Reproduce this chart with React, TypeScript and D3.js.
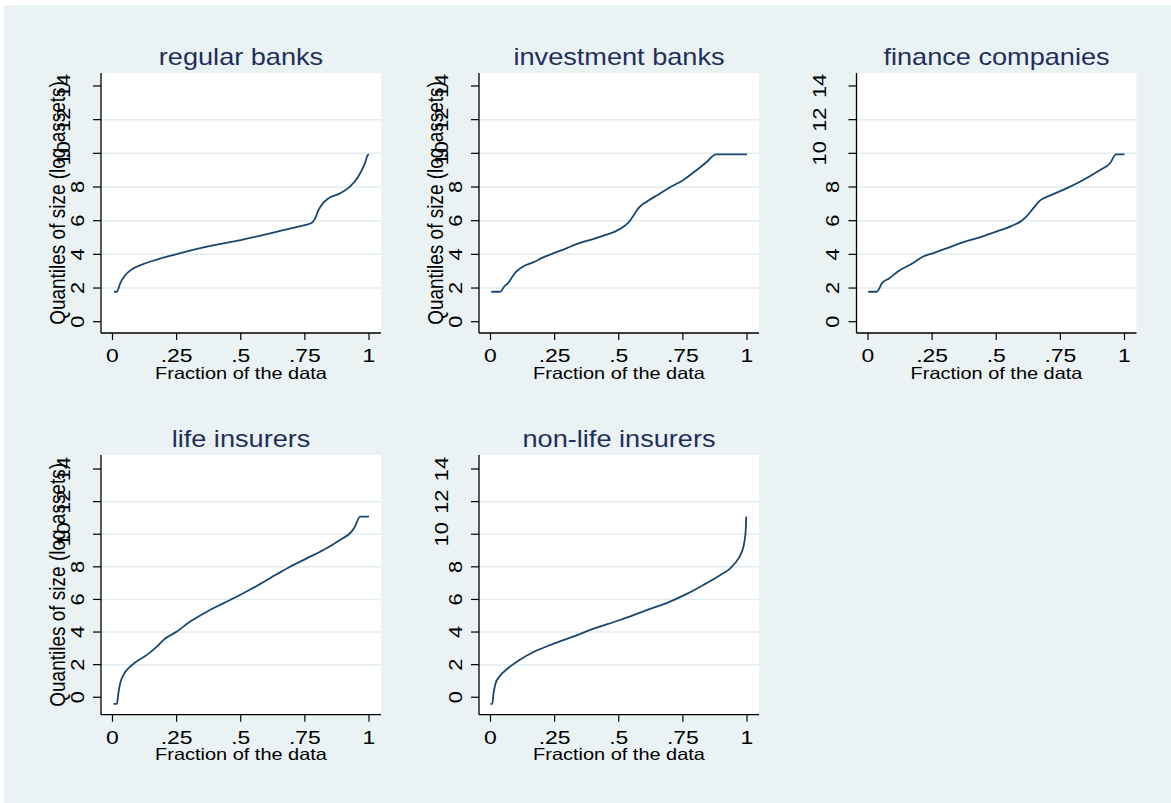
import React from 'react';
import * as d3 from 'd3';

// Quantile plots of firm size (log assets) by type of financial institution.
const panelTitles = ['regular banks', 'investment banks', 'finance companies', 'life insurers', 'non-life insurers'];

const fractionTicks = [0, 0.25, 0.5, 0.75, 1];
const fractionTickLabels = ['0', '.25', '.5', '.75', '1'];
const sizeTicks = [0, 2, 4, 6, 8, 10, 12, 14];
const sizeGrid = [2, 4, 6, 8, 10, 12];

const xTitle = 'Fraction of the data';
const yTitle = 'Quantiles of size (log assets)';

// [fraction of the data, quantile of log assets]
const regularBanks: [number, number][] = [
  [0.006, 1.78], [0.017, 1.78], [0.03, 2.28], [0.05, 2.77], [0.082, 3.17], [0.134, 3.5],
  [0.25, 4.02], [0.368, 4.46], [0.5, 4.85], [0.627, 5.29], [0.705, 5.58], [0.75, 5.74],
  [0.777, 5.88], [0.79, 6.14], [0.803, 6.63], [0.82, 7.03], [0.842, 7.33], [0.887, 7.62],
  [0.926, 8.02], [0.958, 8.61], [0.984, 9.4], [0.995, 9.9], [1.0, 9.94],
];

const investmentBanks: [number, number][] = [
  [0.003, 1.78], [0.038, 1.78], [0.055, 2.12], [0.068, 2.28], [0.081, 2.57], [0.1, 2.97],
  [0.126, 3.27], [0.166, 3.52], [0.205, 3.82], [0.244, 4.06], [0.296, 4.36], [0.335, 4.61],
  [0.4, 4.91], [0.452, 5.17], [0.485, 5.35], [0.518, 5.64], [0.544, 6.0], [0.559, 6.34],
  [0.576, 6.73], [0.609, 7.13], [0.648, 7.49], [0.7, 7.98], [0.752, 8.42], [0.804, 9.01],
  [0.844, 9.5], [0.879, 9.94], [1.0, 9.94],
];

const financeCompanies: [number, number][] = [
  [0.001, 1.78], [0.034, 1.78], [0.056, 2.32], [0.082, 2.57], [0.121, 3.03], [0.174, 3.47],
  [0.213, 3.86], [0.252, 4.06], [0.317, 4.42], [0.369, 4.71], [0.435, 5.01], [0.5, 5.35],
  [0.559, 5.68], [0.598, 5.98], [0.617, 6.24], [0.644, 6.73], [0.67, 7.19], [0.709, 7.49],
  [0.774, 7.92], [0.839, 8.42], [0.905, 9.01], [0.944, 9.41], [0.967, 9.94], [1.0, 9.94],
];

const lifeInsurers: [number, number][] = [
  [0.004, -0.41], [0.017, -0.41], [0.023, 0.25], [0.03, 0.86], [0.043, 1.37], [0.062, 1.78],
  [0.088, 2.13], [0.134, 2.6], [0.173, 3.11], [0.199, 3.52], [0.251, 4.03], [0.303, 4.64],
  [0.368, 5.25], [0.432, 5.76], [0.497, 6.27], [0.562, 6.83], [0.64, 7.54], [0.692, 8.01],
  [0.757, 8.52], [0.822, 9.03], [0.887, 9.65], [0.932, 10.16], [0.945, 10.46], [0.965, 11.08],
  [1.0, 11.08],
];

const nonLifeInsurers: [number, number][] = [
  [0.0, -0.41], [0.007, -0.41], [0.012, 0.25], [0.02, 0.86], [0.035, 1.27], [0.068, 1.78],
  [0.113, 2.29], [0.166, 2.76], [0.244, 3.27], [0.322, 3.72], [0.4, 4.19], [0.505, 4.74],
  [0.609, 5.35], [0.7, 5.87], [0.765, 6.34], [0.83, 6.89], [0.896, 7.5], [0.935, 7.91],
  [0.967, 8.52], [0.98, 8.93], [0.99, 9.54], [0.995, 10.26], [0.997, 11.08],
];

const series = [regularBanks, investmentBanks, financeCompanies, lifeInsurers, nonLifeInsurers];
const showYTitle = [true, true, false, true, false];

const W = 1171;
const H = 803;
const FONT = '"Liberation Sans", Arial, Helvetica, sans-serif';
const BG = '#eaf2f3';
const GRID = '#e3ecee';
const LINE = '#1a476f';
const TITLE = '#1f2f5c';

// plot-region frames, one per panel
const frames = [
  { left: 101, top: 73, height: 260, yMin: -0.67, yMax: 14.77 },
  { left: 479, top: 73, height: 260, yMin: -0.67, yMax: 14.77 },
  { left: 856.5, top: 73, height: 260, yMin: -0.67, yMax: 14.77 },
  { left: 101, top: 455, height: 259.7, yMin: -1.07, yMax: 14.86 },
  { left: 479, top: 455, height: 259.7, yMin: -1.07, yMax: 14.86 },
];
const PLOT_W = 280;

function Panel({ idx }: { idx: number }) {
  const f = frames[idx];
  const right = f.left + PLOT_W;
  const bottom = f.top + f.height;
  const x = d3.scaleLinear().domain([-0.0448, 1.0468]).range([f.left, right]);
  const y = d3.scaleLinear().domain([f.yMin, f.yMax]).range([bottom, f.top]);
  const line = d3
    .line<[number, number]>()
    .x((d) => x(d[0]))
    .y((d) => y(d[1]))
    .curve(d3.curveMonotoneX);
  const cx = (f.left + right) / 2;
  const cy = (f.top + bottom) / 2;

  return (
    <g>
      <rect x={f.left} y={f.top} width={PLOT_W} height={f.height} fill="#ffffff" />
      {sizeGrid.map((v) => (
        <line key={'g' + v} x1={f.left} x2={right} y1={y(v)} y2={y(v)} stroke={GRID} strokeWidth={1.5} />
      ))}
      <path d={line(series[idx]) || ''} fill="none" stroke={LINE} strokeWidth={1.8} strokeLinejoin="round" />
      {/* axes */}
      <line x1={f.left} x2={f.left} y1={f.top} y2={bottom} stroke="#000" strokeWidth={1.3} />
      <line x1={f.left} x2={right} y1={bottom} y2={bottom} stroke="#000" strokeWidth={1.3} />
      {sizeTicks.map((v) => {
        const label = String(v);
        // rotated labels are laid out from their unrotated width, so wider labels sit further out
        const bx = f.left - 17.5 - (label.length - 1) * 13.5;
        return (
          <g key={'y' + v}>
            <line x1={f.left - 8} x2={f.left} y1={y(v)} y2={y(v)} stroke="#000" strokeWidth={1.2} />
            <text
              transform={`translate(${bx},${y(v)}) rotate(-90) scale(1.15,1)`}
              textAnchor="middle"
              fontSize={19}
              fontFamily={FONT}
              fill="#000"
            >
              {label}
            </text>
          </g>
        );
      })}
      {fractionTicks.map((v, i) => (
        <g key={'x' + v}>
          <line x1={x(v)} x2={x(v)} y1={bottom} y2={bottom + 7} stroke="#000" strokeWidth={1.2} />
          <text
            transform={`translate(${x(v)},${bottom + 29}) scale(1.24,1)`}
            textAnchor="middle"
            fontSize={18.5}
            fontFamily={FONT}
            fill="#000"
          >
            {fractionTickLabels[i]}
          </text>
        </g>
      ))}
      <text
        transform={`translate(${cx},${bottom + 45.5}) scale(1.21,1)`}
        textAnchor="middle"
        fontSize={16.5}
        fontFamily={FONT}
        fill="#000"
      >
        {xTitle}
      </text>
      {showYTitle[idx] && (
        <text
          transform={`translate(${f.left - 36},${cy}) rotate(-90) scale(1,1.2)`}
          textAnchor="middle"
          fontSize={19}
          fontFamily={FONT}
          fill="#000"
        >
          {yTitle}
        </text>
      )}
      <text
        transform={`translate(${cx},${f.top - 8}) scale(1.18,1)`}
        textAnchor="middle"
        fontSize={23}
        fontFamily={FONT}
        fill={TITLE}
      >
        {panelTitles[idx]}
      </text>
    </g>
  );
}

export default function App() {
  return (
    <svg
      width={W}
      height={H}
      viewBox={`0 0 ${W} ${H}`}
      style={{ position: 'absolute', left: 0, top: 0, display: 'block' }}
    >
      <rect x={0} y={0} width={W} height={H} fill="#ffffff" />
      <rect x={4} y={5} width={W - 4} height={H - 5} fill={BG} />
      {panelTitles.map((_, i) => (
        <Panel key={i} idx={i} />
      ))}
    </svg>
  );
}
